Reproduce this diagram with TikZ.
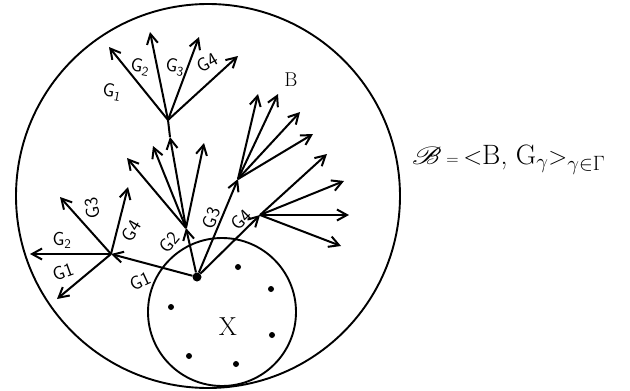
\documentclass[tikz,border=0pt]{standalone}
\usepackage{amsmath}
\usepackage{amssymb}
\usepackage{mathrsfs}
\usepackage{tikz}
\usetikzlibrary{arrows.meta}

\begin{document}
\begin{tikzpicture}[
  x=1pt, y=-1pt,
  arrow/.style={-{Straight Barb[length=10pt, width=11pt, line width=2pt]}, line width=2pt},
  ring/.style={draw, line width=1.9pt},
  glabel/.style={font=\sffamily\fontsize{19}{19}\selectfont, inner sep=0pt},
  pt/.style={fill, circle, inner sep=0pt, minimum size=6pt},
  root/.style={fill, circle, inner sep=0pt, minimum size=9pt}
]
\useasboundingbox (0,0) rectangle (630,391);

% the two sets
\draw[ring] (208,196) circle[radius=192];
\draw[ring] (222,312) circle[radius=74];

% branching points
\node[root] (p0) at (197,277) {};
\coordinate (n1) at (111,254);
\coordinate (n2) at (186,228);
\coordinate (n3) at (168,120);
\coordinate (n3h) at (170,137);
\coordinate (n4) at (238,179);
\coordinate (n5) at (260,215);

% points of X
\node[pt] (x1) at (238,267) {};
\node[pt] (x2) at (271,289) {};
\node[pt] (x3) at (272,335) {};
\node[pt] (x4) at (236,364) {};
\node[pt] (x5) at (189,356) {};
\node[pt] (x6) at (171,307) {};
\node[font=\fontsize{26}{26}\selectfont] (xlab) at (228,327) {X};

% first level
\draw[arrow] (p0) -- (n1);
\draw[arrow] (p0) -- (n2);
\draw[arrow] (p0) -- (n4);
\draw[arrow] (p0) -- (n5);

% left fan
\coordinate (a1) at (30,254);
\coordinate (a2) at (57,299);
\coordinate (a3) at (60,197);
\coordinate (a4) at (128,187);
\draw[arrow] (n1) -- (a1);
\draw[arrow] (n1) -- (a2);
\draw[arrow] (n1) -- (a3);
\draw[arrow] (n1) -- (a4);

% middle fan
\coordinate (b1) at (127,158);
\coordinate (b2) at (153,146);
\coordinate (b4) at (204,143);
\draw[arrow] (n2) -- (b1);
\draw[arrow] (n2) -- (b2);
\draw[arrow] (n2) -- (n3h);
\draw[line width=2pt] (n3h) -- (n3);
\draw[arrow] (n2) -- (b4);

% top fan
\coordinate (c1) at (109,47);
\coordinate (c2) at (150,32);
\coordinate (c3) at (199,37);
\coordinate (c4) at (238,56);
\draw[arrow] (n3) -- (c1);
\draw[arrow] (n3) -- (c2);
\draw[arrow] (n3) -- (c3);
\draw[arrow] (n3) -- (c4);

% upper right fan
\coordinate (d1) at (258,94);
\coordinate (d2) at (278,94);
\coordinate (d3) at (300,112);
\coordinate (d4) at (313,134);
\draw[arrow] (n4) -- (d1);
\draw[arrow] (n4) -- (d2);
\draw[arrow] (n4) -- (d3);
\draw[arrow] (n4) -- (d4);

% lower right fan
\coordinate (e1) at (327,154);
\coordinate (e2) at (344,181);
\coordinate (e3) at (349,215);
\coordinate (e4) at (341,246);
\draw[arrow] (n5) -- (e1);
\draw[arrow] (n5) -- (e2);
\draw[arrow] (n5) -- (e3);
\draw[arrow] (n5) -- (e4);

% labels
\node[glabel, rotate=-10] (lt1) at (112,92) {G\textsubscript{1}};
\node[glabel, rotate=-10] (lt2) at (140,67) {G\textsubscript{2}};
\node[glabel, rotate=-10] (lt3) at (175,67) {G\textsubscript{3}};
\node[glabel, rotate=30] (lt4) at (207,63) {G4};
\node[glabel] (ll2) at (62,240) {G\textsubscript{2}};
\node[glabel, rotate=20] (ll1) at (63,272) {G1};
\node[glabel, rotate=100] (ll3) at (92,208) {G3};
\node[glabel, rotate=60] (ll4) at (131,231) {G4};
\node[glabel, rotate=25] (lm1) at (140,281) {G1};
\node[glabel, rotate=50] (lm2) at (169,242) {G2};
\node[glabel, rotate=70] (lm3) at (211,218) {G3};
\node[glabel, rotate=45] (lm4) at (241,220) {G4};
\node[font=\fontsize{20}{20}\selectfont] (blab) at (291,80) {B};

% the structure
\node[anchor=west, inner sep=0pt, font=\fontsize{28}{32}\selectfont] (form) at (412,160)
  {\scalebox{1.25}[1]{$\mathscr{B}$}\,{\fontsize{17}{17}\selectfont=}\,$\mathord{<}$B, G$_{\gamma}\mathord{>}_{\gamma\in\Gamma}$};
\end{tikzpicture}
\end{document}
